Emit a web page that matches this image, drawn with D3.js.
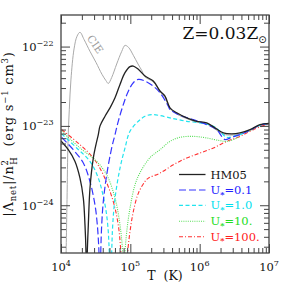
<!DOCTYPE html>
<html><head><meta charset="utf-8">
<script src="https://cdn.jsdelivr.net/npm/d3@7"></script>
<style>html,body{margin:0;padding:0;background:#fff;} svg{display:block;}</style>
</head><body><svg id="c" width="284" height="284"></svg>
<script>
// ---- data (log10 T [K], log10 |Lambda_net|/nH^2 [erg s^-1 cm^3]) ----
const cieLogT  = [4.072,4.087,4.101,4.120,4.144,4.188,4.231,4.274,4.332,4.418,4.505,4.591,4.649,4.682,4.731,4.803,4.876,4.923,4.974,5.043,5.111,5.164,5.212,5.331,5.428,5.500,5.572,5.669,5.813,5.957,6.102,6.221,6.341,6.462,6.582,6.726,6.870,7.000];
const cieLogL  = [-24.70,-23.93,-23.20,-22.79,-22.41,-22.03,-21.87,-21.82,-21.91,-22.06,-22.20,-22.35,-22.43,-22.465,-22.39,-22.22,-22.06,-21.985,-22.01,-22.11,-22.22,-22.30,-22.382,-22.446,-22.566,-22.642,-22.78,-22.851,-22.908,-22.952,-22.975,-23.04,-23.104,-23.116,-23.104,-23.06,-22.996,-22.984];

const hm05LogT = [4.000,4.105,4.202,4.274,4.322,4.346,4.361,4.370,4.379,4.394,4.418,4.466,4.515,4.538,4.563,4.635,4.707,4.779,4.851,4.923,4.995,5.043,5.115,5.212,5.331,5.428,5.500,5.572,5.669,5.813,5.957,6.102,6.221,6.341,6.462,6.582,6.726,6.870,7.000];
const hm05LogL = [-23.19,-23.30,-23.448,-23.658,-23.911,-24.249,-24.604,-25.2,-24.604,-24.249,-23.785,-23.405,-23.195,-23.110,-23.00,-22.878,-22.772,-22.646,-22.477,-22.329,-22.253,-22.246,-22.287,-22.372,-22.435,-22.56,-22.625,-22.772,-22.835,-22.899,-22.942,-22.962,-23.025,-23.089,-23.101,-23.089,-23.047,-22.984,-22.97];

const u01LogT  = [4.010,4.177,4.322,4.418,4.490,4.524,4.548,4.560,4.573,4.587,4.610,4.659,4.731,4.779,4.826,4.899,4.971,5.043,5.115,5.212,5.331,5.428,5.548,5.572,5.716,5.908,6.102,6.246,6.318,6.365,6.462,6.582,6.726,6.870,7.000];
const u01LogL  = [-23.144,-23.300,-23.468,-23.701,-23.996,-24.249,-24.604,-25.2,-24.604,-24.249,-23.954,-23.616,-23.278,-23.110,-22.942,-22.730,-22.562,-22.456,-22.414,-22.435,-22.499,-22.582,-22.752,-22.794,-22.866,-22.920,-22.984,-23.047,-23.132,-23.173,-23.144,-23.110,-23.053,-22.99,-22.97];

const u1LogT   = [4.010,4.226,4.418,4.538,4.635,4.674,4.697,4.714,4.731,4.746,4.779,4.851,4.923,4.995,5.115,5.212,5.308,5.428,5.572,5.620,5.813,6.005,6.197,6.293,6.390,6.534,6.582,6.726,6.870,7.000];
const u1LogL   = [-23.101,-23.278,-23.448,-23.658,-23.996,-24.249,-24.604,-25.2,-24.604,-24.249,-23.911,-23.532,-23.278,-23.068,-22.942,-22.878,-22.857,-22.870,-22.899,-22.908,-22.942,-22.962,-23.004,-23.068,-23.144,-23.119,-23.110,-23.053,-22.99,-22.97];

const u10LogT  = [4.010,4.274,4.515,4.659,4.779,4.851,4.890,4.907,4.923,4.948,4.995,5.067,5.139,5.284,5.428,5.572,5.716,5.908,6.102,6.293,6.390,6.534,6.582,6.726,6.870,7.000];
const u10LogL  = [-23.068,-23.278,-23.448,-23.616,-23.911,-24.249,-24.604,-25.2,-24.604,-24.334,-24.038,-23.743,-23.59,-23.40,-23.300,-23.195,-23.144,-23.132,-23.152,-23.186,-23.195,-23.152,-23.110,-23.053,-22.99,-22.97];

const u100LogT = [4.010,4.274,4.466,4.610,4.754,4.826,4.865,4.910,4.960,4.995,5.043,5.115,5.212,5.260,5.428,5.620,5.813,6.005,6.197,6.390,6.582,6.774,7.000];
const u100LogL = [-23.047,-23.237,-23.405,-23.616,-23.954,-24.249,-24.604,-25.2,-24.604,-24.334,-24.08,-23.85,-23.70,-23.658,-23.595,-23.490,-23.405,-23.342,-23.278,-23.195,-23.132,-23.047,-22.97];

const legendLabels = ["HM05", "0.1", "1.0", "10.", "100."];
const xMajor = [1e4, 1e5, 1e6, 1e7];
const xMajorExp = ["4", "5", "6", "7"];
const yMajor = [1e-22, 1e-23, 1e-24];
const yMajorExp = ["\u221222", "\u221223", "\u221224"];

// ---- layout ----
const L = 61, R = 269, T = 15, B = 253;
const svg = d3.select("#c");
const x = d3.scaleLog().domain([1e4, 1e7]).range([L, R]);
const y = d3.scaleLog().domain([2.5e-25, 2.5e-22]).range([B, T]);
const serif = "DejaVu Serif";

const pts = (lt, ll) => lt.map((t, i) => [Math.pow(10, t), Math.pow(10, ll[i])]);
const series = [
  {pts: pts(cieLogT, cieLogL),   color: "#aaaaaa", dash: null,      w: 1.0, leg: false},
  {pts: pts(u100LogT, u100LogL), color: "#ff3030", dash: "4,2,1,2", w: 1.1, leg: true, lab: legendLabels[4], tc: "#ff2020", order: 4},
  {pts: pts(u10LogT, u10LogL),   color: "#55dd55", dash: "1,1.2",   w: 1.1, leg: true, lab: legendLabels[3], tc: "#22dd22", order: 3},
  {pts: pts(u1LogT, u1LogL),     color: "#22e4ee", dash: "4,2.5",   w: 1.2, leg: true, lab: legendLabels[2], tc: "#00e0ee", order: 2},
  {pts: pts(u01LogT, u01LogL),   color: "#3535ff", dash: "7,3",     w: 1.2, leg: true, lab: legendLabels[1], tc: "#2222ff", order: 1},
  {pts: pts(hm05LogT, hm05LogL), color: "#222222", dash: null,      w: 1.3, leg: true, lab: legendLabels[0], tc: "#111111", order: 0}
];

svg.append("defs").append("clipPath").attr("id", "clip")
  .append("rect").attr("x", L).attr("y", T).attr("width", R - L).attr("height", B - T);

const line = d3.line().x(d => x(d[0])).y(d => y(d[1])).curve(d3.curveCatmullRom.alpha(0.5));
const gl = svg.append("g").attr("clip-path", "url(#clip)");
gl.selectAll("path").data(series).join("path")
  .attr("d", d => line(d.pts))
  .attr("fill", "none")
  .attr("stroke", d => d.color)
  .attr("stroke-width", d => d.w)
  .attr("stroke-dasharray", d => d.dash);

// ---- axes ticks ----
const xMinor = [], yMinor = [];
for (let e = 4; e < 7; e++) for (let k = 2; k <= 9; k++) xMinor.push(k * Math.pow(10, e));
for (let e = -25; e <= -22; e++) for (let k = 2; k <= 9; k++) {
  const v = k * Math.pow(10, e);
  if (v >= 2.5e-25 && v <= 2.5e-22) yMinor.push(v);
}
const tickCol = "#444";
function ax(gen, tr) {
  const g = svg.append("g").attr("transform", tr).call(gen.tickFormat("").tickSizeOuter(0));
  g.select(".domain").remove();
  g.selectAll("line").attr("stroke", tickCol).attr("stroke-width", 1);
}
ax(d3.axisBottom(x).tickValues(xMajor).tickSize(-9), `translate(0,${B})`);
ax(d3.axisBottom(x).tickValues(xMinor).tickSize(-5), `translate(0,${B})`);
ax(d3.axisTop(x).tickValues(xMajor).tickSize(-9), `translate(0,${T})`);
ax(d3.axisTop(x).tickValues(xMinor).tickSize(-5), `translate(0,${T})`);
ax(d3.axisLeft(y).tickValues(yMajor).tickSize(-9), `translate(${L},0)`);
ax(d3.axisLeft(y).tickValues(yMinor).tickSize(-5), `translate(${L},0)`);
ax(d3.axisRight(y).tickValues(yMajor).tickSize(-9), `translate(${R},0)`);
ax(d3.axisRight(y).tickValues(yMinor).tickSize(-5), `translate(${R},0)`);

svg.append("rect").attr("x", L).attr("y", T).attr("width", R - L).attr("height", B - T)
  .attr("fill", "none").attr("stroke", tickCol).attr("stroke-width", 1.3);

// ---- tick labels ----
xMajor.forEach((v, i) => {
  const t = svg.append("text").attr("x", x(v)).attr("y", 271).attr("text-anchor", "middle")
    .attr("font-family", serif).attr("font-size", 11.5).attr("fill", "#111");
  t.append("tspan").text("10");
  t.append("tspan").attr("dy", -5).attr("font-size", 8).text(xMajorExp[i]);
});
yMajor.forEach((v, i) => {
  const t = svg.append("text").attr("x", 53.5).attr("y", y(v) + 4.5).attr("text-anchor", "end")
    .attr("font-family", serif).attr("font-size", 11.5).attr("fill", "#111");
  t.append("tspan").text("10");
  t.append("tspan").attr("dy", -5).attr("font-size", 8).text(yMajorExp[i]);
});

// ---- axis titles ----
svg.append("text").attr("x", 165).attr("y", 279.5).attr("text-anchor", "middle")
  .attr("font-family", serif).attr("font-size", 12.5).attr("fill", "#111")
  .style("white-space", "pre").text("T  (K)");

const yt = svg.append("text").attr("transform", "translate(13,134) rotate(-90)")
  .attr("text-anchor", "middle").attr("font-family", serif).attr("font-size", 13)
  .attr("letter-spacing", 0.8).attr("fill", "#111").style("white-space", "pre");
yt.append("tspan").text("|\u039b");
yt.append("tspan").attr("font-size", 8.5).attr("dy", 3).text("net");
yt.append("tspan").attr("dy", -3).text("|/n");
yt.append("tspan").attr("font-size", 8.5).attr("dy", -5).text("2");
yt.append("tspan").attr("font-size", 8.5).attr("dx", -5.5).attr("dy", 9).text("H");
yt.append("tspan").attr("dy", -4).text("  (erg s");
yt.append("tspan").attr("font-size", 8.5).attr("dy", -5).text("\u22121");
yt.append("tspan").attr("dy", 5).text(" cm");
yt.append("tspan").attr("font-size", 8.5).attr("dy", -5).text("3");
yt.append("tspan").attr("dy", 5).text(")");

// ---- annotations ----
const zt = svg.append("text").attr("x", 182.5).attr("y", 38.5)
  .attr("font-family", serif).attr("font-size", 17).attr("fill", "#111");
zt.append("tspan").text("Z=0.03Z");
zt.append("tspan").attr("font-family", "DejaVu Sans").attr("font-size", 10).attr("dy", 4).text("\u2299");

svg.append("text").attr("transform", "translate(95.5,44) rotate(55)")
  .attr("text-anchor", "middle").attr("dominant-baseline", "central")
  .attr("font-family", serif).attr("font-size", 10.5).attr("fill", "#999").text("CIE");

// ---- legend ----
const legY = [174.5, 190, 205.3, 221.3, 236.8];
const leg = series.filter(s => s.leg).sort((a, b) => a.order - b.order);
const lg = svg.append("g");
lg.selectAll("line").data(leg).join("line")
  .attr("x1", 179).attr("x2", 205.5)
  .attr("y1", d => legY[d.order]).attr("y2", d => legY[d.order])
  .attr("stroke", d => d.color).attr("stroke-width", d => d.w)
  .attr("stroke-dasharray", d => d.dash);
lg.selectAll("text").data(leg).join("text")
  .attr("x", 210.5).attr("y", d => legY[d.order] + 4)
  .attr("font-family", serif).attr("font-size", 11.5).attr("fill", d => d.tc)
  .each(function(d) {
    const t = d3.select(this);
    if (d.order === 0) { t.text(d.lab); return; }
    t.append("tspan").text("U");
    t.append("tspan").attr("font-size", 8).attr("dy", 2.5).attr("font-weight", "bold").text("*");
    t.append("tspan").attr("dy", -2.5).text("=" + d.lab);
  });
</script></body></html>
